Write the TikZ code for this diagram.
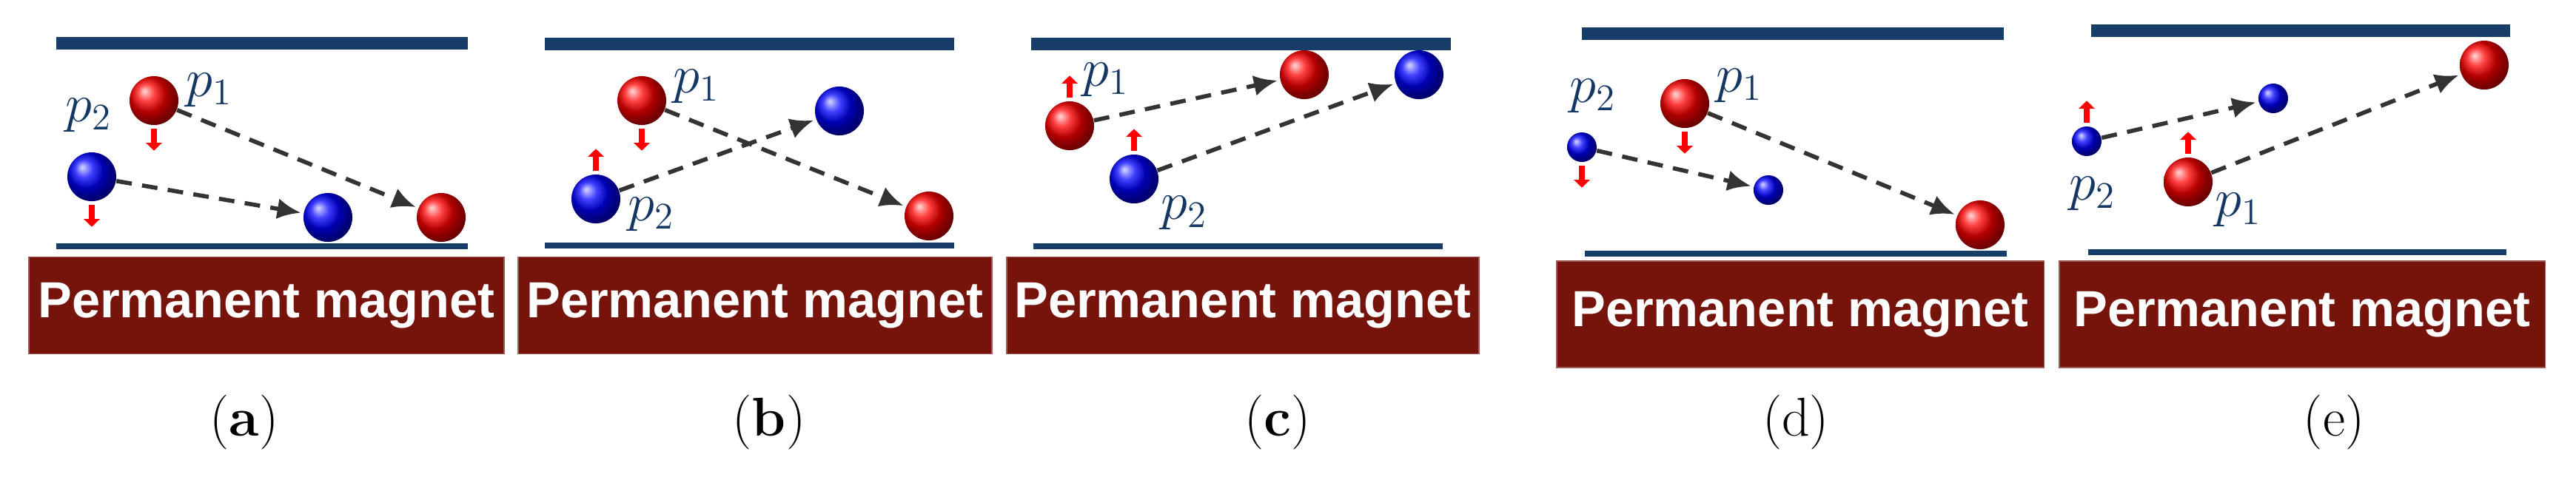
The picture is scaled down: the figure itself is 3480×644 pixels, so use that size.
\documentclass[tikz,border=0pt]{standalone}
\usepackage{fontspec}
\newfontfamily\magfont{Liberation Sans}
\usetikzlibrary{arrows.meta}
\definecolor{plate}{RGB}{22,62,104}
\definecolor{magnet}{RGB}{118,20,12}
\definecolor{lbl}{RGB}{20,55,100}
\tikzset{
  rball/.style={circle, inner sep=0pt, minimum size=0.66cm, shading=ball, ball color=red},
  bball/.style={circle, inner sep=0pt, minimum size=0.66cm, shading=ball, ball color=blue},
  rsmall/.style={rball, minimum size=0.42cm},
  bsmall/.style={bball, minimum size=0.40cm},
  track/.style={draw=black!80, line width=1.6pt, dash pattern=on 6pt off 4pt, -{Latex[length=9pt,width=8pt]}, shorten >=1pt},
  spin/.style={draw=red, line width=2.2pt, -{Triangle[length=3pt,width=6pt]}},
  mag/.style={fill=magnet, draw=magnet!70, minimum height=1.31cm, inner sep=0pt, text=white, font=\magfont\bfseries\fontsize{19.5pt}{20pt}\selectfont},
  lab/.style={text=lbl, font=\fontsize{20pt}{22pt}\selectfont, inner sep=0pt},
  subcap/.style={font=\fontsize{21pt}{24pt}\selectfont, inner sep=0pt}
}
\begin{document}
\begin{tikzpicture}[x=0.01cm, y=-0.01cm]
    \useasboundingbox[fill=white] (0,0) rectangle (3480,644);

    % (a)
    \fill[plate] (76,50) rectangle (632,67);
    \fill[plate] (76,329) rectangle (632,337);
    \node[mag, minimum width=6.42cm] (ma) at (360,413) {Permanent magnet};
    \node[rball] (a1) at (208,136) {};
    \node[bball] (a2) at (124,239) {};
    \node[bball] (a2f) at (443,294) {};
    \node[rball] (a1f) at (596,294) {};
    \draw[track] (a1) -- (a1f);
    \draw[track] (a2) -- (a2f);
    \draw[spin] (a1.south) ++(0,4) -- +(0,30);
    \draw[spin] (a2.south) ++(0,4) -- +(0,30);
    \node[lab] at (283,122) {$p_1$};
    \node[lab] at (120,156) {$p_2$};
    \node[subcap] at (330,571) {(\textbf{a})};

    % (b)
    \fill[plate] (736,51) rectangle (1289,68);
    \fill[plate] (736,328) rectangle (1289,336);
    \node[mag, minimum width=6.40cm] (mb) at (1020,413) {Permanent magnet};
    \node[rball] (b1) at (867,136) {};
    \node[bball] (b2) at (805,269) {};
    \node[bball] (b2f) at (1134,150) {};
    \node[rball] (b1f) at (1255,292) {};
    \draw[track] (b1) -- (b1f);
    \draw[track] (b2) -- (b2f);
    \draw[spin] (b1.south) ++(0,4) -- +(0,30);
    \draw[spin] (b2.north) ++(0,-4) -- +(0,-30);
    \node[lab] at (941,117) {$p_1$};
    \node[lab] at (880,290) {$p_2$};
    \node[subcap] at (1039,571) {(\textbf{b})};

    % (c)
    \fill[plate] (1393,51) rectangle (1960,68);
    \fill[plate] (1396,329) rectangle (1949,337);
    \node[mag, minimum width=6.38cm] (mc) at (1679,413) {Permanent magnet};
    \node[rball] (c1) at (1445,170) {};
    \node[bball] (c2) at (1532,242) {};
    \node[rball] (c1f) at (1762,101) {};
    \node[bball] (c2f) at (1917,101) {};
    \draw[track] (c1) -- (c1f);
    \draw[track] (c2) -- (c2f);
    \draw[spin] (c1.north) ++(0,-4) -- +(0,-30);
    \draw[spin] (c2.north) ++(0,-4) -- +(0,-30);
    \node[lab] at (1494,108) {$p_1$};
    \node[lab] at (1600,288) {$p_2$};
    \node[subcap] at (1726,571) {(\textbf{c})};

    % (d)
    \fill[plate] (2137,37) rectangle (2707,54);
    \fill[plate] (2141,339) rectangle (2711,347);
    \node[mag, minimum width=6.58cm, minimum height=1.44cm] (md) at (2432,425) {Permanent magnet};
    \node[rball] (d1) at (2276,140) {};
    \node[bsmall] (d2) at (2137,199) {};
    \node[bsmall] (d2f) at (2389,257) {};
    \node[rball] (d1f) at (2675,304) {};
    \draw[track] (d1) -- (d1f);
    \draw[track] (d2) -- (d2f);
    \draw[spin] (d1.south) ++(0,4) -- +(0,30);
    \draw[spin] (d2.south) ++(0,4) -- +(0,30);
    \node[lab] at (2350,116) {$p_1$};
    \node[lab] at (2152,130) {$p_2$};
    \node[subcap] at (2426,571) {(d)};

    % (e)
    \fill[plate] (2825,33) rectangle (3391,50);
    \fill[plate] (2821,337) rectangle (3386,345);
    \node[mag, minimum width=6.56cm, minimum height=1.44cm] (me) at (3110,425) {Permanent magnet};
    \node[bsmall] (e2) at (2819,191) {};
    \node[rball] (e1) at (2956,246) {};
    \node[bsmall] (e2f) at (3071,133) {};
    \node[rball] (e1f) at (3356,88) {};
    \draw[track] (e1) -- (e1f);
    \draw[track] (e2) -- (e2f);
    \draw[spin] (e1.north) ++(0,-4) -- +(0,-30);
    \draw[spin] (e2.north) ++(0,-4) -- +(0,-30);
    \node[lab] at (3024,284) {$p_1$};
    \node[lab] at (2827,262) {$p_2$};
    \node[subcap] at (3153,571) {(e)};
\end{tikzpicture}
\end{document}
